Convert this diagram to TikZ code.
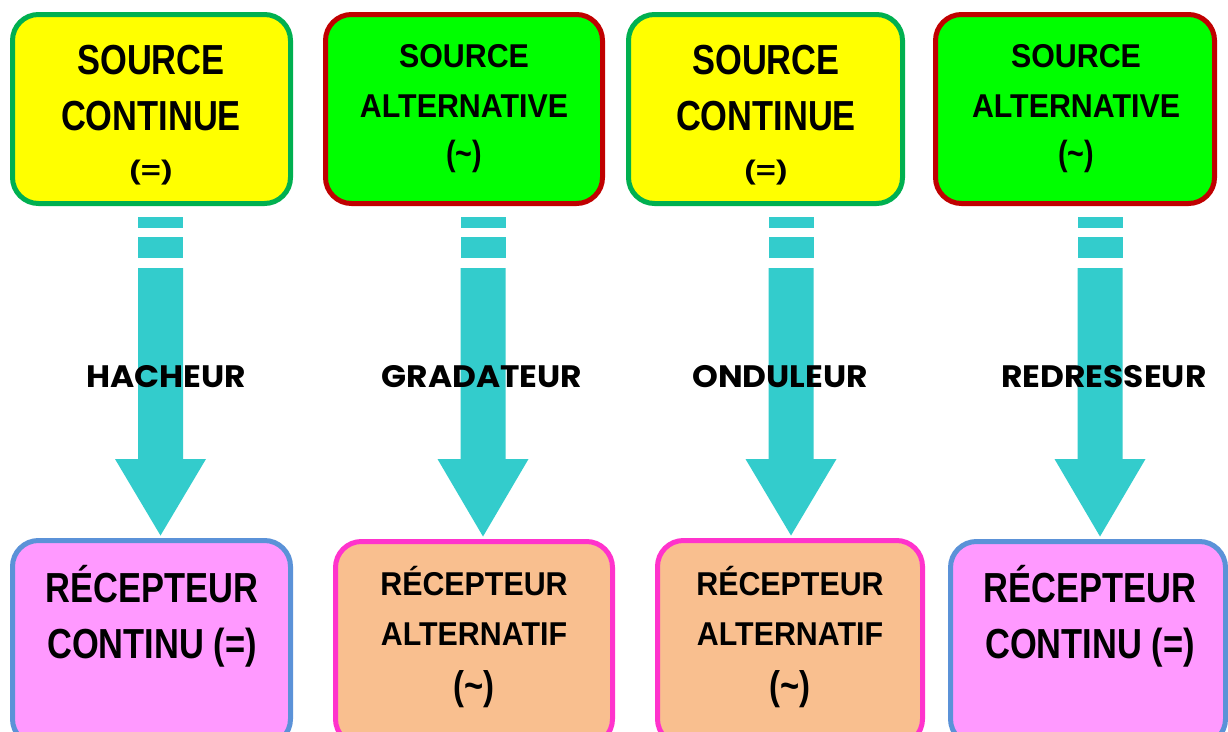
\documentclass[tikz,border=0pt]{standalone}
\usepackage{fontspec}
\usetikzlibrary{calc}
\newfontfamily\boxfont{Liberation Sans Bold}[FakeStretch=0.82]
\newfontfamily\boxfontwide{Liberation Sans Bold}[FakeStretch=0.92]
\newfontfamily\tagfont{Poppins}[FakeStretch=1.06]
\definecolor{srcyellow}{HTML}{FFFF00}
\definecolor{srcgreenline}{HTML}{00B050}
\definecolor{srcgreen}{HTML}{00FF00}
\definecolor{srcred}{HTML}{C00000}
\definecolor{recpink}{HTML}{FF99FF}
\definecolor{recblue}{HTML}{5B92D8}
\definecolor{recmagenta}{HTML}{FF33CC}
\definecolor{recorange}{HTML}{F9BF8F}
\definecolor{flowcyan}{HTML}{33CCCC}

\tikzset{
  box/.style={rectangle, rounded corners=26pt, line width=5pt, inner sep=0pt},
  dcsource/.style={box, draw=srcgreenline, fill=srcyellow},
  acsource/.style={box, draw=srcred, fill=srcgreen},
  dcload/.style={box, draw=recblue, fill=recpink},
  acload/.style={box, draw=recmagenta, fill=recorange},
  bigtext/.style={anchor=base, align=center, inner sep=0pt, font=\boxfont\fontsize{42}{56}\selectfont},
  smalltext/.style={anchor=base, align=center, inner sep=0pt, font=\boxfontwide\fontsize{33}{50}\selectfont},
  convname/.style={inner sep=0pt, font=\tagfont\bfseries\fontsize{31}{36}\selectfont},
  flow/.style={fill=flowcyan}
}

% converter arrow: #1 name, #2 centre x, #3 target node
\newcommand\powerflow[3]{%
  \coordinate (#1) at (#2,0);
  \coordinate (#1tip) at (#1 |- #3.north);
  \fill[flow] (#2-22.5,217) rectangle (#2+22.5,228);
  \fill[flow] (#2-22.5,237) rectangle (#2+22.5,258);
  \fill[flow] (#2-22.5,268) -- (#2-22.5,459) -- (#2-45.5,459) -- ([yshift=2.5pt]#1tip)
     -- (#2+45.5,459) -- (#2+22.5,459) -- (#2+22.5,268) -- cycle;
}
% the (=) under SOURCE CONTINUE is set wide and low
\newcommand\dcsign{\scalebox{1}[0.64]{\boxfont\fontsize{42}{44}\selectfont(=)}}
\newcommand\acsign{{\boxfont\fontsize{35}{40}\selectfont(\textasciitilde)}}
\newcommand\acsignbig{{\boxfont\fontsize{40}{44}\selectfont(\textasciitilde)}}

\begin{document}
\begin{tikzpicture}[x=1pt,y=-1pt]
\useasboundingbox[fill=white] (0,0) rectangle (1228,731);

% sources
\node[dcsource, minimum width=278pt, minimum height=189pt] (s1) at (151.5,109) {};
\node[acsource, minimum width=277pt, minimum height=189pt] (s2) at (464,109) {};
\node[dcsource, minimum width=274pt, minimum height=189pt] (s3) at (765.5,109) {};
\node[acsource, minimum width=279pt, minimum height=189pt] (s4) at (1075,109) {};

% loads
\node[dcload, minimum width=278pt, minimum height=204.5pt] (r1) at (151.5,642.75) {};
\node[acload, minimum width=277pt, minimum height=203.5pt] (r2) at (474,643.25) {};
\node[acload, minimum width=265pt, minimum height=204.5pt] (r3) at (790,642.75) {};
\node[dcload, minimum width=275pt, minimum height=203.5pt] (r4) at (1088,643.25) {};

% box texts (placed by the baseline of their last line)
\node[bigtext] (s1t) at (151,179.4) {SOURCE\\CONTINUE\\[-6.6pt]\dcsign};
\node[smalltext] (s2t) at (464,165.5) {SOURCE\\ALTERNATIVE\\[-1.5pt]\acsign};
\node[bigtext] (s3t) at (766,179.4) {SOURCE\\CONTINUE\\[-6.6pt]\dcsign};
\node[smalltext] (s4t) at (1076,165.5) {SOURCE\\ALTERNATIVE\\[-1.5pt]\acsign};

\node[bigtext] (r1t) at (152,658) {RÉCEPTEUR\\CONTINU (=)};
\node[smalltext] (r2t) at (474,699.6) {RÉCEPTEUR\\ALTERNATIF\\[4.6pt]\acsignbig};
\node[smalltext] (r3t) at (790,699.6) {RÉCEPTEUR\\ALTERNATIF\\[4.6pt]\acsignbig};
\node[bigtext] (r4t) at (1090,658) {RÉCEPTEUR\\CONTINU (=)};

% converters
\powerflow{f1}{160.5}{r1}
\powerflow{f2}{483}{r2}
\powerflow{f3}{791}{r3}
\powerflow{f4}{1100}{r4}

\node[convname] (c1) at (166,377) {HACHEUR};
\node[convname] (c2) at (482,377) {GRADATEUR};
\node[convname] (c3) at (780,377) {ONDULEUR};
\node[convname] (c4) at (1104,377) {REDRESSEUR};
\end{tikzpicture}
\end{document}
